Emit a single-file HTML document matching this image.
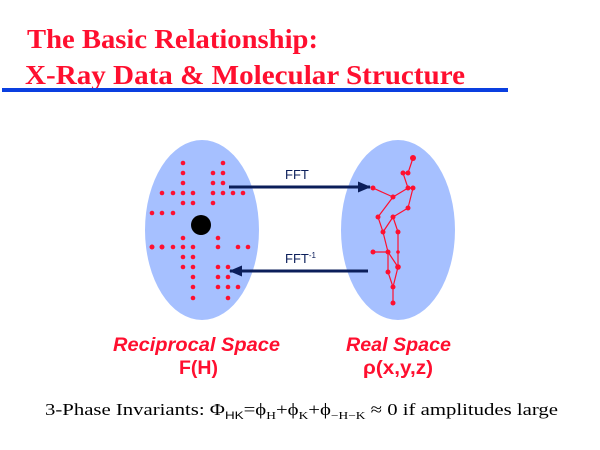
<!DOCTYPE html>
<html><head><style>html,body{margin:0;padding:0;background:#fff;}svg{display:block}</style></head>
<body>
<svg width="600" height="450" viewBox="0 0 600 450" xmlns="http://www.w3.org/2000/svg">
<defs>
<marker id="ah" markerWidth="13" markerHeight="11" refX="12" refY="5.5" orient="auto" markerUnits="userSpaceOnUse"><path d="M0,0 L13,5.5 L0,11 z" fill="#0b1e5a"/></marker>
</defs>
<g font-family="Liberation Serif, serif" font-weight="bold" font-size="27" fill="#ff0f2f">
<text x="27" y="48" textLength="291" lengthAdjust="spacingAndGlyphs">The Basic Relationship:</text>
<text x="25" y="84" textLength="440" lengthAdjust="spacingAndGlyphs">X-Ray Data &amp; Molecular Structure</text>
</g>
<rect x="2" y="88" width="506" height="4" fill="#0a3fe0"/>
<ellipse cx="202" cy="230" rx="57" ry="90" fill="#a6c0ff"/>
<ellipse cx="398" cy="230" rx="57" ry="90" fill="#a6c0ff"/>
<g fill="#ff0f2f">
<circle cx="183" cy="163" r="2.3"/><circle cx="223" cy="163" r="2.3"/>
<circle cx="183" cy="173" r="2.3"/><circle cx="213" cy="173" r="2.3"/><circle cx="223" cy="173" r="2.3"/>
<circle cx="183" cy="183" r="2.3"/><circle cx="213" cy="183" r="2.3"/><circle cx="223" cy="183" r="2.3"/>
<circle cx="162" cy="193" r="2.3"/><circle cx="173" cy="193" r="2.3"/><circle cx="183" cy="193" r="2.3"/><circle cx="193" cy="193" r="2.3"/><circle cx="213" cy="193" r="2.3"/><circle cx="223" cy="193" r="2.3"/><circle cx="233" cy="193" r="2.3"/><circle cx="243" cy="193" r="2.3"/>
<circle cx="183" cy="203" r="2.3"/><circle cx="193" cy="203" r="2.3"/><circle cx="213" cy="203" r="2.3"/>
<circle cx="152" cy="213" r="2.3"/><circle cx="162" cy="213" r="2.3"/><circle cx="173" cy="213" r="2.3"/>
<circle cx="183" cy="238" r="2.3"/><circle cx="218" cy="238" r="2.3"/>
<circle cx="152" cy="247" r="2.5"/><circle cx="162" cy="247" r="2.5"/><circle cx="173" cy="247" r="2.3"/><circle cx="183" cy="247" r="2.3"/><circle cx="193" cy="247" r="2.3"/><circle cx="218" cy="247" r="2.3"/><circle cx="238" cy="247" r="2.3"/><circle cx="248" cy="247" r="2.3"/>
<circle cx="183" cy="257" r="2.3"/><circle cx="193" cy="257" r="2.3"/>
<circle cx="183" cy="267" r="2.3"/><circle cx="193" cy="267" r="2.3"/><circle cx="218" cy="267" r="2.3"/><circle cx="228" cy="267" r="2.3"/>
<circle cx="193" cy="277" r="2.3"/><circle cx="218" cy="277" r="2.3"/><circle cx="228" cy="277" r="2.3"/>
<circle cx="193" cy="287" r="2.3"/><circle cx="218" cy="287" r="2.3"/><circle cx="228" cy="287" r="2.3"/><circle cx="238" cy="287" r="2.3"/>
<circle cx="193" cy="298" r="2.3"/><circle cx="228" cy="298" r="2.3"/>
</g>
<circle cx="201" cy="225" r="10" fill="#000"/>
<line x1="229" y1="187" x2="370" y2="187" stroke="#0b1e5a" stroke-width="3" marker-end="url(#ah)"/>
<line x1="368" y1="271" x2="230" y2="271" stroke="#0b1e5a" stroke-width="3" marker-end="url(#ah)"/>
<g font-family="Liberation Sans, sans-serif" font-size="13" fill="#0b1e5a">
<text x="285" y="179">FFT</text>
<text x="285" y="263">FFT<tspan font-size="8" dy="-5">-1</tspan></text>
</g>
<g stroke="#ff0f2f" stroke-width="1.2" fill="none">
<path d="M413,158L408,173M403,173L408,173M403,173L408,188M408,188L413,188M373,188L393,197M393,197L408,188M393,197L378,217M413,188L408,208M408,208L393,217M378,217L383,232M393,217L383,232M393,217L398,232M383,232L388,252M398,232L398,267M373,252L388,252M388,252L398,267M388,252L388,272M398,267L393,287M388,272L393,287M393,287L393,303"/>
</g>
<g fill="#ff0f2f">
<circle cx="413" cy="158" r="3"/><circle cx="403" cy="173" r="2.5"/><circle cx="408" cy="173" r="2.5"/><circle cx="408" cy="188" r="2.5"/><circle cx="413" cy="188" r="2.5"/><circle cx="373" cy="188" r="2.5"/><circle cx="393" cy="197" r="2.5"/><circle cx="408" cy="208" r="2.5"/><circle cx="378" cy="217" r="2.5"/><circle cx="393" cy="217" r="2.5"/><circle cx="383" cy="232" r="2.5"/><circle cx="398" cy="232" r="2.5"/><circle cx="373" cy="252" r="2.5"/><circle cx="388" cy="252" r="2.5"/><circle cx="398" cy="252" r="1.8"/><circle cx="398" cy="267" r="2.8"/><circle cx="388" cy="272" r="2.5"/><circle cx="393" cy="287" r="2.5"/><circle cx="393" cy="303" r="2.5"/>
</g>
<g font-family="Liberation Sans, sans-serif" font-weight="bold" font-size="19" fill="#ff0f2f">
<text x="113" y="351" font-style="italic" textLength="167" lengthAdjust="spacingAndGlyphs">Reciprocal Space</text>
<text x="179" y="374" textLength="39" lengthAdjust="spacingAndGlyphs">F(H)</text>
<text x="346" y="351" font-style="italic" textLength="105" lengthAdjust="spacingAndGlyphs">Real Space</text>
<text x="363" y="374" textLength="70" lengthAdjust="spacingAndGlyphs">ρ(x,y,z)</text>
</g>
<text x="45" y="415" font-family="Liberation Serif, serif" font-size="17" fill="#000" textLength="513" lengthAdjust="spacingAndGlyphs">3-Phase Invariants: Φ<tspan font-family="Liberation Sans, sans-serif" font-size="11" dy="4">HK</tspan><tspan dy="-4">=ϕ</tspan><tspan font-size="11" dy="4">H</tspan><tspan dy="-4">+ϕ</tspan><tspan font-size="11" dy="4">K</tspan><tspan dy="-4">+ϕ</tspan><tspan font-size="11" dy="4">−H−K</tspan><tspan dy="-4"> ≈ 0 if amplitudes large</tspan></text>
</svg>
</body></html>
